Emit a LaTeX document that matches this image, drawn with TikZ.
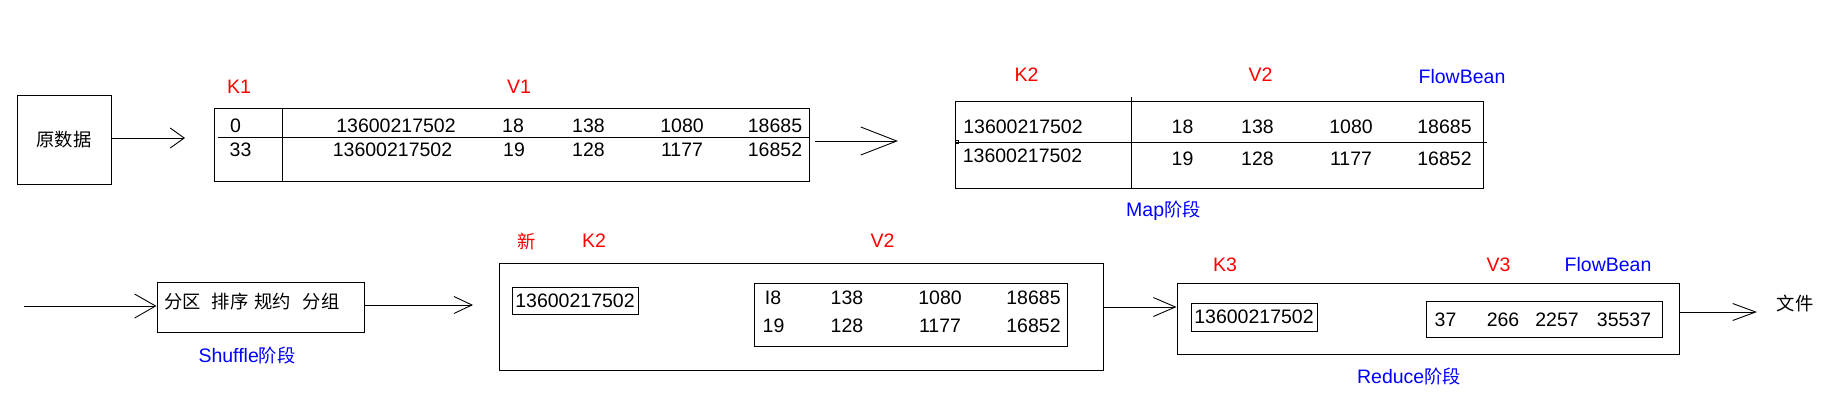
\documentclass[tikz,border=0pt]{standalone}
\usepackage{fontspec}
\setmainfont{Liberation Sans}
\newfontfamily\cjk{Noto Sans CJK SC}
\usetikzlibrary{arrows.meta}
\definecolor{kred}{RGB}{255,0,0}
\definecolor{kblue}{RGB}{0,0,255}
\newcommand{\zh}[1]{{\cjk\fontsize{18.3}{22}\selectfont #1}}
\tikzset{
  txt/.style={inner sep=0pt, font=\fontsize{19.5}{22}\selectfont},
  redlbl/.style={txt, text=kred},
  bluelbl/.style={txt, text=kblue},
  boxn/.style={draw, line width=1pt, inner sep=0pt, minimum width=#1},
  ln/.style={line width=0.9pt},
  barb/.style 2 args={line width=0.9pt, -{Straight Barb[length=#1pt, width=#2pt, line width=0.9pt]}},
}
\begin{document}
\begin{tikzpicture}[x=1pt, y=-1pt]
\useasboundingbox (0,0) rectangle (1841,413);

% ---------- raw data box ----------
\node[boxn=94, minimum height=89] (raw) at (64,139.5) {\zh{原数据}};
\coordinate (a1e) at (185,138);
\draw[barb={14}{20}] (raw.east |- a1e) -- (a1e);

% ---------- table 1 ----------
\node[boxn=595, minimum height=73] (t1) at (511.5,144.5) {};
\coordinate (t1vt) at (282,108); \coordinate (t1vb) at (282,181);
\draw[ln] (t1vt) -- (t1vb);
\coordinate (t1hl) at (218,137);
\draw[ln] (t1hl) -- (t1hl -| t1.east);
\node[redlbl] (k1) at (239,87) {K1};
\node[redlbl] (v1) at (519,87) {V1};
\node[txt] (t1a0) at (235.5,126) {0};
\node[txt] (t1a1) at (396,126) {13600217502};
\node[txt] (t1a2) at (513,126) {18};
\node[txt] (t1a3) at (588.5,126) {138};
\node[txt] (t1a4) at (682,126) {1080};
\node[txt] (t1a5) at (775,126) {18685};
\node[txt] (t1b0) at (240.5,150) {33};
\node[txt] (t1b1) at (392.5,150) {13600217502};
\node[txt] (t1b2) at (514,150) {19};
\node[txt] (t1b3) at (588.5,150) {128};
\node[txt] (t1b4) at (682,150) {1177};
\node[txt] (t1b5) at (775,150) {16852};

% arrow 2
\coordinate (a2s) at (815,141);
\coordinate (a2e) at (898,141);
\draw[barb={36}{28}] (a2s) -- (a2e);

% ---------- table 2 (Map) ----------
\node[boxn=528, minimum height=87] (t2) at (1219,144.5) {};
\coordinate (t2vt) at (1131,97);
\draw[ln] (t2vt) -- (t2vt |- t2.south);
\coordinate (t2hr) at (1487,142);
\draw[ln] (t2.west |- t2hr) -- (t2hr);
\node[draw, line width=0.7pt, inner sep=0pt, minimum size=3.5pt] (t2sq) at (957,142) {};
\node[redlbl] (k2) at (1026.5,75) {K2};
\node[redlbl] (v2) at (1260.5,75) {V2};
\node[bluelbl] (fb1) at (1462,77) {FlowBean};
\node[txt] (t2a1) at (1023,127) {13600217502};
\node[txt] (t2a2) at (1182.5,127) {18};
\node[txt] (t2a3) at (1257.5,127) {138};
\node[txt] (t2a4) at (1351,127) {1080};
\node[txt] (t2a5) at (1444.5,127) {18685};
\node[txt] (t2b1) at (1022.5,156) {13600217502};
\node[txt] (t2b2) at (1182.5,159) {19};
\node[txt] (t2b3) at (1257.5,159) {128};
\node[txt] (t2b4) at (1351,159) {1177};
\node[txt] (t2b5) at (1444.5,159) {16852};
\node[bluelbl] (mapl) at (1163.5,211) {Map\zh{阶段}};

% ---------- shuffle ----------
\coordinate (a3s) at (24,306);
\node[boxn=207, minimum height=50] (sh) at (260.5,307) {};
\draw[barb={21}{24}] (a3s) -- (sh.west |- a3s);
\node[txt, anchor=west] (shtxt) at (164,302) {\zh{分区}\hspace{11pt}\zh{排序}\hspace{6pt}\zh{规约}\hspace{12pt}\zh{分组}};
\node[bluelbl] (shl) at (247,356) {Shuffle\zh{阶段}};
\coordinate (a4e) at (473,305);
\draw[barb={18}{17}] (sh.east |- a4e) -- (a4e);

% ---------- new K2 / V2 big box ----------
\node[boxn=604, minimum height=107] (bb) at (801,316.5) {};
\node[boxn=126, minimum height=27, font=\fontsize{19.5}{22}\selectfont] (bbk) at (575,300.5) {13600217502};
\node[boxn=313, minimum height=63] (bbv) at (910.5,314.5) {};
\node[redlbl] (xin) at (526.5,241) {\zh{新}};
\node[redlbl] (k2b) at (594,241) {K2};
\node[redlbl] (v2b) at (882.5,241) {V2};
\node[txt] (bva2) at (773,298) {I8};
\node[txt] (bva3) at (847,298) {138};
\node[txt] (bva4) at (940,298) {1080};
\node[txt] (bva5) at (1033.5,298) {18685};
\node[txt] (bvb2) at (773.5,326) {19};
\node[txt] (bvb3) at (847,326) {128};
\node[txt] (bvb4) at (940,326) {1177};
\node[txt] (bvb5) at (1033.5,326) {16852};

% ---------- reduce ----------
\node[boxn=502, minimum height=71] (rd) at (1428,318.5) {};
\coordinate (a5y) at (0,307);
\draw[barb={22}{19}] (bb.east |- a5y) -- (rd.west |- a5y);
\node[boxn=126, minimum height=28, font=\fontsize{19.5}{22}\selectfont] (rdk) at (1254,317) {13600217502};
\node[boxn=236, minimum height=36] (rdv) at (1544,319) {};
\node[txt] (r1) at (1445.5,320) {37};
\node[txt] (r2) at (1503,320) {266};
\node[txt] (r3) at (1557,320) {2257};
\node[txt] (r4) at (1624,320) {35537};
\node[redlbl] (k3) at (1225,265) {K3};
\node[redlbl] (v3) at (1498.5,265) {V3};
\node[bluelbl] (fb2) at (1608,265) {FlowBean};
\node[bluelbl] (rdl) at (1409,377) {Reduce\zh{阶段}};
\coordinate (a6e) at (1757,312);
\draw[barb={23}{17}] (rd.east |- a6e) -- (a6e);
\node[txt] (file) at (1795,303) {\zh{文件}};
\end{tikzpicture}
\end{document}
